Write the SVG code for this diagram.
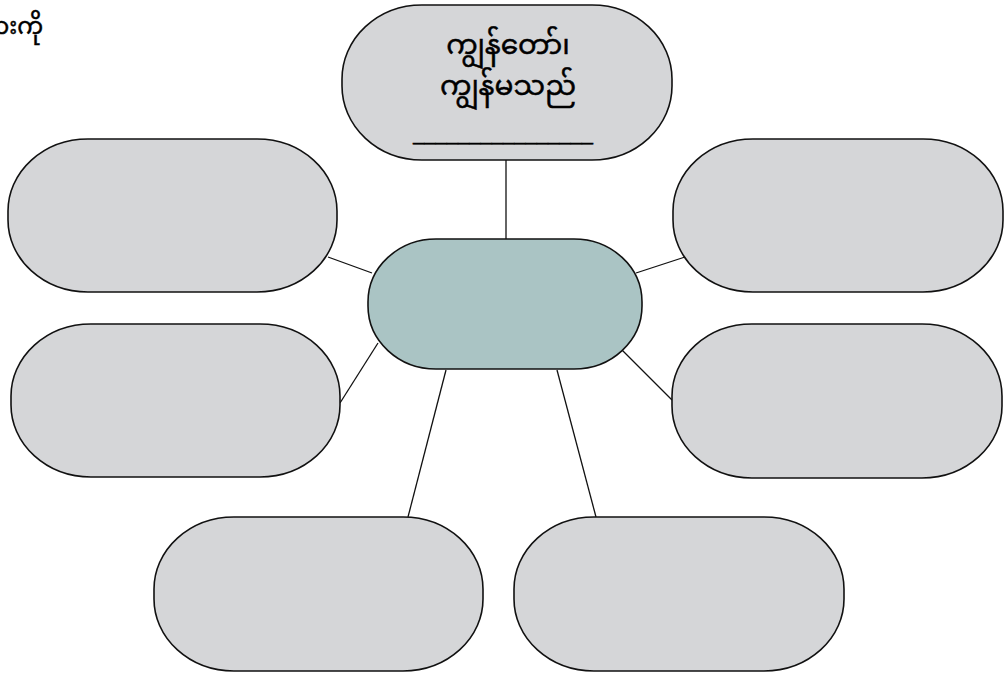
<svg xmlns="http://www.w3.org/2000/svg" width="1007" height="675" viewBox="0 0 1007 675">
<style>
.n{fill:#d5d6d8;stroke:#111;stroke-width:1.6}
.c{fill:#aac4c4;stroke:#111;stroke-width:1.6}
.e{stroke:#111;stroke-width:1.3;fill:none}
.t{font-family:"Noto Sans Myanmar","Padauk","Myanmar Text","Noto Sans","DejaVu Sans",sans-serif;fill:#000;stroke:#000;stroke-width:0.5}
</style>
<rect width="1007" height="675" fill="#fff"/>
<text class="t" x="43" y="34" font-size="23" text-anchor="end">များကို</text>
<g id="connectors">
<line class="e" x1="506" y1="160" x2="506" y2="239"/>
<line class="e" x1="328" y1="257" x2="372" y2="273"/>
<line class="e" x1="636" y1="273" x2="685" y2="257"/>
<line class="e" x1="378" y1="343" x2="340" y2="403"/>
<line class="e" x1="622" y1="350" x2="672" y2="400"/>
<line class="e" x1="446" y1="370" x2="408" y2="517"/>
<line class="e" x1="557" y1="370" x2="596" y2="517"/>
</g>
<g id="top">
<rect class="n" x="342" y="5" width="330" height="155" rx="80" ry="74"/>
<text class="t" x="508" y="54" font-size="28" text-anchor="middle">ကျွန်တော်၊</text>
<text class="t" x="508" y="95" font-size="28" text-anchor="middle">ကျွန်မသည်</text>
<text class="t" x="413" y="141" font-size="20" textLength="180" lengthAdjust="spacingAndGlyphs">________________</text>
</g>
<g id="center"><rect class="c" x="368" y="239" width="274" height="130" rx="68" ry="63"/></g>
<g id="left-top"><rect class="n" x="8" y="139" width="329" height="153" rx="80" ry="72"/></g>
<g id="left-bottom"><rect class="n" x="11" y="324" width="329" height="153" rx="80" ry="72"/></g>
<g id="right-top"><rect class="n" x="673" y="139" width="330" height="153" rx="80" ry="72"/></g>
<g id="right-bottom"><rect class="n" x="672" y="324" width="330" height="154" rx="80" ry="72"/></g>
<g id="bottom-left"><rect class="n" x="154" y="517" width="329" height="154" rx="80" ry="72"/></g>
<g id="bottom-right"><rect class="n" x="514" y="517" width="330" height="154" rx="80" ry="72"/></g>
</svg>
